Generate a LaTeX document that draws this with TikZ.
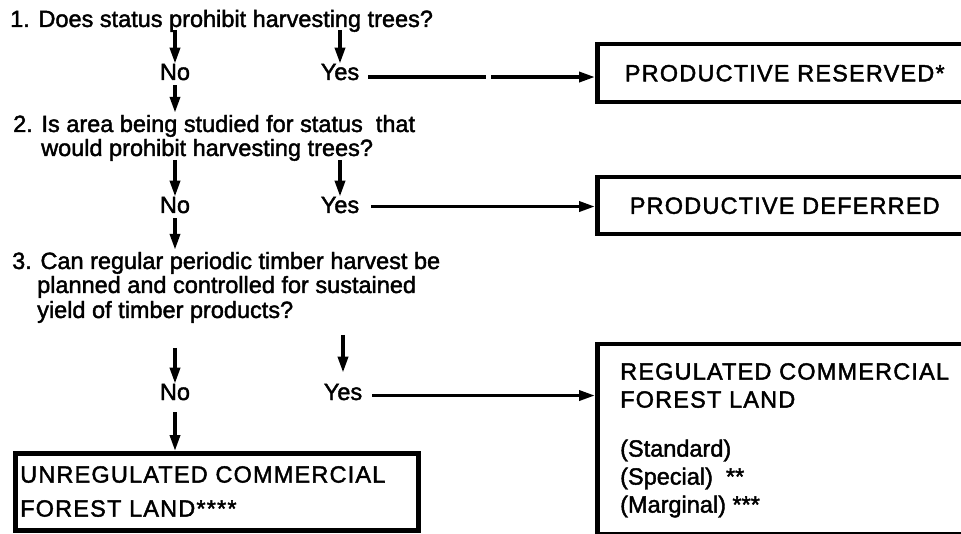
\documentclass[tikz,border=0pt]{standalone}
\usepackage{fontspec}
\setmainfont{Liberation Sans}
\newfontfamily\chartfont{Liberation Sans}[FakeBold=1.8]
\newfontfamily\capfont{Liberation Sans}[FakeBold=1.8, LetterSpace=5]
\usepackage{tikz}
\usetikzlibrary{positioning, arrows.meta}

\tikzset{
  qtext/.style={anchor=base west, inner sep=0pt, font=\chartfont\fontsize{23.5}{28}\selectfont},
  ans/.style={anchor=base, inner sep=0pt, font=\chartfont\fontsize{23.5}{28}\selectfont},
  outbox/.style={draw, rectangle, line width=4.5pt, inner sep=0pt},
  boxlabel/.style={inner sep=0pt, font=\capfont\fontsize{23.5}{28}\selectfont},
  flow/.style={line width=3.5pt, -{Triangle[length=16pt, width=10pt]}}
}

\begin{document}
\begin{tikzpicture}[x=1pt, y=-1pt]
    \useasboundingbox (0,0) rectangle (961,534);
    \clip (0,0) rectangle (961,534);

    % Question 1
    \node[qtext] (q1) at (10,27) {1. Does status prohibit harvesting trees?};
    \node[ans] (no1) at (175,80) {No};
    \node[ans] (yes1) at (340,80) {Yes};
    \draw[flow, shorten <=3pt] (q1.base -| no1) -- (no1.north);
    \draw[flow, shorten <=3pt] (q1.base -| yes1) -- (yes1.north);

    % Reserved
    \node[outbox, boxlabel, anchor=north west, minimum width=375pt, minimum height=58pt] (res) at (595,42) {PRODUCTIVE RESERVED*};
    \coordinate (yes1out) at ([xshift=9pt, yshift=-5pt]yes1.east);
    \draw[flow, dash pattern=on 118pt off 5pt on 400pt] (yes1out) -- (yes1out -| res.west);

    % Question 2
    \node[qtext] (q2a) at (13,132) {2. Is area being studied for status\ \ that};
    \node[qtext] (q2b) at (41,156) {would prohibit harvesting trees?};
    \draw[flow, shorten <=5pt, shorten >=2pt] (no1.south) -- (no1.south |- q2a.north);
    \node[ans] (no2) at (175,213) {No};
    \node[ans] (yes2) at (340,213) {Yes};
    \draw[flow, shorten <=4pt] (q2b.base -| no2) -- (no2.north);
    \draw[flow, shorten <=4pt] (q2b.base -| yes2) -- (yes2.north);

    % Deferred
    \node[outbox, boxlabel, anchor=north west, minimum width=375pt, minimum height=57pt] (def) at (595,175) {PRODUCTIVE DEFERRED};
    \coordinate (yes2out) at ([xshift=12pt, yshift=-1.5pt]yes2.east);
    \draw[flow] (yes2out) -- (yes2out -| def.west);

    % Question 3
    \node[qtext] (q3a) at (12,269) {3. Can regular periodic timber harvest be};
    \node[qtext] (q3b) at (37,293) {planned and controlled for sustained};
    \node[qtext] (q3c) at (37,318) {yield of timber products?};
    \draw[flow, shorten <=5pt, shorten >=2pt] (no2.south) -- (no2.south |- q3a.north);
    \node[ans] (no3) at (175,400) {No};
    \node[ans] (yes3) at (343,400) {Yes};
    \draw[flow, shorten <=30pt] (q3c.base -| no3) -- (no3.north);
    \draw[flow, shorten <=17pt, shorten >=11pt] (q3c.base -| yes3) -- (yes3.north);

    % Regulated
    \node[outbox, anchor=north west, minimum width=375pt, minimum height=190pt] (reg) at (595,342) {};
    \node[boxlabel, anchor=north west, align=left] (reglabel) at (620,363)
        {REGULATED COMMERCIAL\\FOREST LAND\\[21pt]{\chartfont (Standard)}\\{\chartfont (Special)\ \ **}\\{\chartfont (Marginal) ***}};
    \coordinate (yes3out) at ([xshift=10pt, yshift=-3.5pt]yes3.east);
    \draw[flow] (yes3out) -- (yes3out -| reg.west);

    % Unregulated
    \node[outbox, anchor=north west, minimum width=403pt, minimum height=77pt] (unreg) at (13,451) {};
    \node[boxlabel, anchor=north west, align=left] (unreglabel) at (20,466)
        {UNREGULATED COMMERCIAL\\[6pt]FOREST LAND****};
    \draw[flow, shorten <=12pt] (no3.south) -- (no3.south |- unreg.north);
\end{tikzpicture}
\end{document}
